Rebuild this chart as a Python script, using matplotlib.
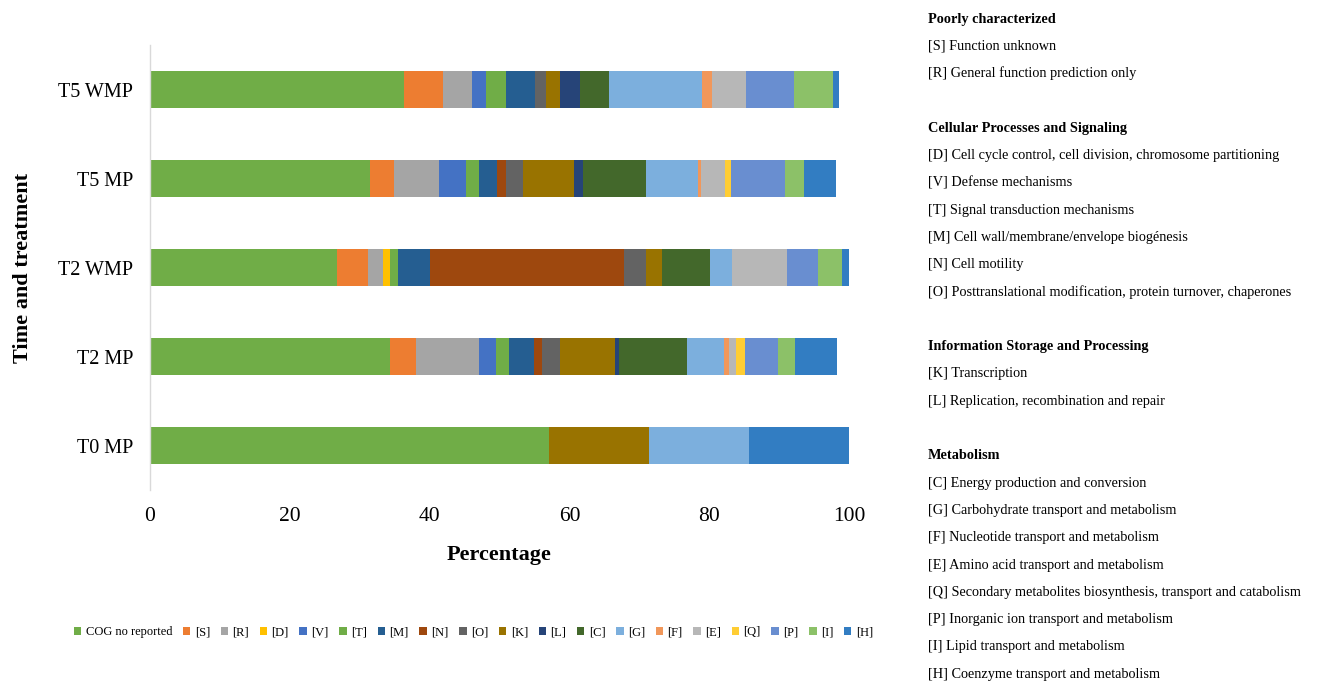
import matplotlib
matplotlib.use("Agg")
import matplotlib.pyplot as plt
import numpy as np

plt.rcParams['font.family'] = ['Liberation Serif', 'DejaVu Serif']

samples = ["T0 MP", "T2 MP", "T2 WMP", "T5 MP", "T5 WMP"]
categories = ["COG no reported", "[S]", "[R]", "[D]", "[V]", "[T]", "[M]", "[N]", "[O]",
              "[K]", "[L]", "[C]", "[G]", "[F]", "[E]", "[Q]", "[P]", "[I]", "[H]"]

# percentage of each COG class per sample (rows follow `samples`)
t0_mp  = [57.1, 0, 0, 0, 0, 0, 0, 0, 0, 14.3, 0, 0, 14.3, 0, 0, 0, 0, 0, 14.3]
t2_mp  = [34.3, 3.7, 9.1, 0, 2.4, 1.8, 3.6, 1.2, 2.6, 7.8, 0.6, 9.7, 5.3, 0.7, 1.1, 1.2, 4.8, 2.4, 6.0]
t2_wmp = [26.7, 4.5, 2.1, 1.1, 0, 1.1, 4.5, 27.8, 3.2, 2.3, 0, 6.8, 3.2, 0, 7.8, 0, 4.5, 3.4, 1.1]
t5_mp  = [31.5, 3.4, 6.5, 0, 3.8, 1.8, 2.6, 1.3, 2.4, 7.4, 1.3, 9.0, 7.4, 0.4, 3.5, 0.8, 7.8, 2.6, 4.7]
t5_wmp = [36.4, 5.5, 4.1, 0, 2.1, 2.9, 4.1, 0, 1.5, 2.1, 2.8, 4.2, 13.3, 1.4, 4.9, 0, 6.8, 5.6, 0.9]

colors = ["#70AD47", "#ED7D31", "#A5A5A5", "#FFC000", "#4472C4", "#70AD47", "#255E91",
          "#9E480E", "#636363", "#997300", "#264478", "#43682B", "#7CAFDD", "#F1975A",
          "#B7B7B7", "#FFCD33", "#698ED0", "#8CC168", "#327DC2"]

table = np.array([t0_mp, t2_mp, t2_wmp, t5_mp, t5_wmp])

fig = plt.figure(figsize=(13.23, 6.82), dpi=100)
ax = fig.add_axes([0.1134, 0.2815, 0.5283, 0.6525])

y = np.arange(len(samples))
left = np.zeros(len(samples))
for j, cat in enumerate(categories):
    ax.barh(y, table[:, j], left=left, height=0.41, color=colors[j],
            label=cat, linewidth=0)
    left += table[:, j]

ax.set_xlim(0, 100)
ax.set_ylim(-0.5, len(samples) - 0.5)
ax.set_yticks(y)
ax.set_yticklabels(samples, fontsize=14.5)
ax.set_xticks(np.arange(0, 101, 20))
ax.tick_params(axis='x', labelsize=15.5, length=0, pad=12)
ax.tick_params(axis='y', length=0, pad=12)
for s in ["top", "right", "bottom"]:
    ax.spines[s].set_visible(False)
ax.spines["left"].set_color("#D9D9D9")
ax.spines["left"].set_linewidth(1.0)

ax.set_xlabel("Percentage", fontsize=16, fontweight="bold", labelpad=14)
ax.set_ylabel("Time and treatment", fontsize=16, fontweight="bold", labelpad=18)

fig.legend(loc="center left", bbox_to_anchor=(0.052, 0.073), ncol=19, frameon=False,
           fontsize=9, handlelength=0.6, handleheight=0.6, handletextpad=0.35,
           columnspacing=0.85, borderaxespad=0)

# COG functional category descriptions
groups = [
    ("Poorly characterized", ["[S] Function unknown",
                              "[R] General function prediction only"]),
    ("Cellular Processes and Signaling", [
        "[D] Cell cycle control, cell division, chromosome partitioning",
        "[V] Defense mechanisms",
        "[T] Signal transduction mechanisms",
        "[M] Cell wall/membrane/envelope biogénesis",
        "[N] Cell motility",
        "[O] Posttranslational modification, protein turnover, chaperones"]),
    ("Information Storage and Processing", [
        "[K] Transcription",
        "[L] Replication, recombination and repair"]),
    ("Metabolism", [
        "[C] Energy production and conversion",
        "[G] Carbohydrate transport and metabolism",
        "[F] Nucleotide transport and metabolism",
        "[E] Amino acid transport and metabolism",
        "[Q] Secondary metabolites biosynthesis, transport and catabolism",
        "[P] Inorganic ion transport and metabolism",
        "[I] Lipid transport and metabolism",
        "[H] Coenzyme transport and metabolism"]),
]

x0 = 928 / 1323
step = 27.3
ypix = 19
for title, items in groups:
    fig.text(x0, 1 - ypix / 682, title, fontsize=10.3, fontweight="bold", va="center", ha="left")
    ypix += step
    for it in items:
        fig.text(x0, 1 - ypix / 682, it, fontsize=10.3, va="center", ha="left")
        ypix += step
    ypix += step

fig.savefig("out.png", dpi=100, facecolor="white")
